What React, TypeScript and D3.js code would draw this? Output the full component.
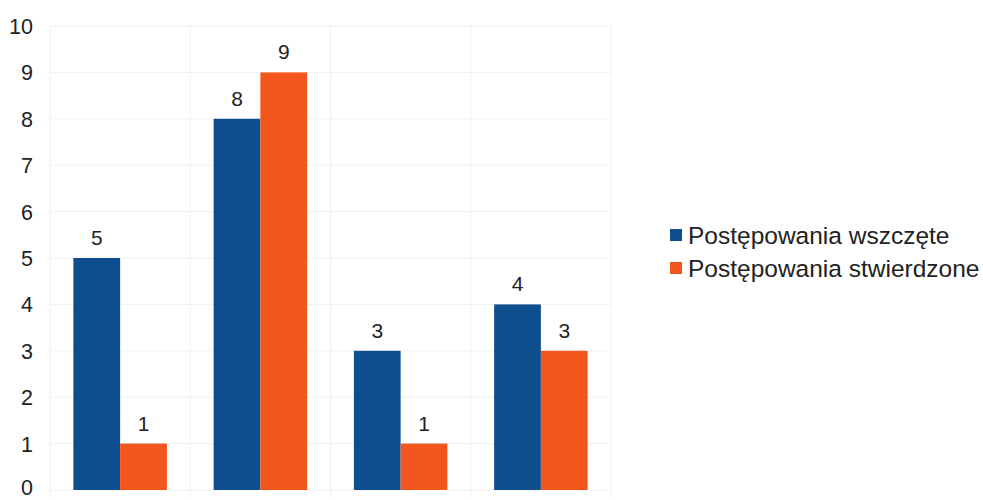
import React from "react";
import * as d3 from "d3";

const categories = ["A", "B", "C", "D"];
const seriesNames = ["Postępowania wszczęte", "Postępowania stwierdzone"];
const wszczete = [5, 8, 3, 4];
const stwierdzone = [1, 9, 1, 3];
const yTicks = [0, 1, 2, 3, 4, 5, 6, 7, 8, 9, 10];
const colors = ["#0f4e8e", "#f2561c"];

export default function App() {
  const W = 983, H = 500;
  const left = 50, right = 611, top = 26, bottom = 490;
  const x = d3.scaleBand<string>().domain(categories).range([left, right]).paddingInner(0).paddingOuter(0);
  const inner = d3.scaleBand<number>().domain([0, 1]).range([0, x.bandwidth()]).paddingInner(0).paddingOuter(0.5);
  const y = d3.scaleLinear().domain([0, 10]).range([bottom, top]);
  const series = [wszczete, stwierdzone];
  const font = "'Liberation Sans', Arial, sans-serif";
  return (
    <svg width={W} height={H} style={{ position: "absolute", left: 0, top: 0, background: "#fff" }} fontFamily={font}>
      <rect x={0} y={0} width={W} height={H} fill="#fff" />
      {yTicks.map((t) => (
        <line key={"g" + t} x1={left} x2={right} y1={y(t)} y2={y(t)} stroke="#f0f0f0" strokeWidth={1} />
      ))}
      {categories.map((c) => (
        <line key={"v" + c} x1={x(c)!} x2={x(c)!} y1={top} y2={bottom + 8} stroke="#f0f0f0" strokeWidth={1} />
      ))}
      <line x1={right} x2={right} y1={top} y2={bottom + 8} stroke="#f0f0f0" strokeWidth={1} />
      {yTicks.map((t) => (
        <text key={"t" + t} x={33} y={Math.min(y(t) + 8, 495)} textAnchor="end" fontSize={21.5} fill="#222">{t}</text>
      ))}
      {series.map((vals, si) =>
        categories.map((c, ci) => {
          const bx = x(c)! + inner(si)!;
          const bw = inner.bandwidth();
          return (
            <g key={si + "-" + c}>
              <rect x={bx} y={y(vals[ci])} width={bw} height={y(0) - y(vals[ci])} fill={colors[si]} />
              <text x={bx + bw / 2} y={y(vals[ci]) - 13} textAnchor="middle" fontSize={21} fill="#222">{vals[ci]}</text>
            </g>
          );
        })
      )}
      {seriesNames.map((n, i) => (
        <g key={n} transform={`translate(670, ${229 + i * 33})`}>
          <rect x={0} y={0} width={12} height={12} fill={colors[i]} />
          <text x={18} y={15} fontSize={24.5} fill="#222">{n}</text>
        </g>
      ))}
    </svg>
  );
}
